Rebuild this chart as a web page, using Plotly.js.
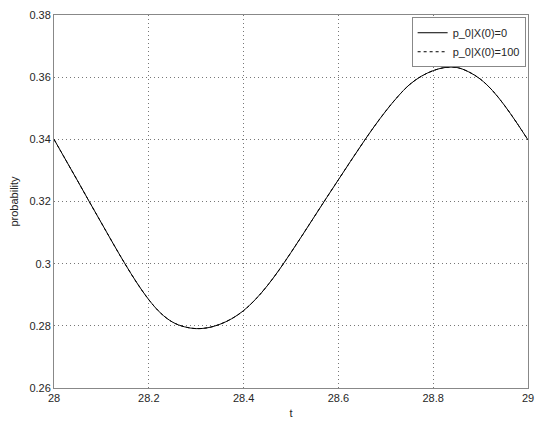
<!DOCTYPE html>
<html>
<head>
<meta charset="utf-8">
<script src="https://cdn.plot.ly/plotly-3.0.1.min.js"></script>
<style>html,body{margin:0;padding:0;background:#fff;}#chart{width:550px;height:428px;}</style>
</head>
<body>
<div id="chart"></div>
<script>
const t = [28.000,28.025,28.050,28.075,28.100,28.125,28.150,28.175,28.200,28.225,28.250,28.275,28.300,28.325,28.350,28.375,28.400,28.425,28.450,28.475,28.500,28.525,28.550,28.575,28.600,28.625,28.650,28.675,28.700,28.725,28.750,28.775,28.800,28.825,28.850,28.875,28.900,28.925,28.950,28.975,29.000];
const p0_x0 = [0.3400,0.3333,0.3266,0.3198,0.3131,0.3064,0.2999,0.2938,0.2884,0.2841,0.2812,0.2797,0.2791,0.2794,0.2805,0.2823,0.2849,0.2885,0.2929,0.2980,0.3036,0.3094,0.3153,0.3212,0.3270,0.3328,0.3385,0.3440,0.3491,0.3537,0.3576,0.3603,0.3621,0.3631,0.3631,0.3617,0.3593,0.3557,0.3510,0.3456,0.3398];
const p0_x100 = [0.3400,0.3333,0.3266,0.3198,0.3131,0.3064,0.2999,0.2938,0.2884,0.2841,0.2812,0.2797,0.2791,0.2794,0.2805,0.2823,0.2849,0.2885,0.2929,0.2980,0.3036,0.3094,0.3153,0.3212,0.3270,0.3328,0.3385,0.3440,0.3491,0.3537,0.3576,0.3603,0.3621,0.3631,0.3631,0.3617,0.3593,0.3557,0.3510,0.3456,0.3398];
const xTicks = [28, 28.2, 28.4, 28.6, 28.8, 29];
const xTickText = ['28','28.2','28.4','28.6','28.8','29'];
const yTicks = [0.26, 0.28, 0.30, 0.32, 0.34, 0.36, 0.38];
const yTickText = ['0.26','0.28','0.3','0.32','0.34','0.36','0.38'];
const names = ['p_0|X(0)=0', 'p_0|X(0)=100'];

const traces = [
  {x: t, y: p0_x0, name: names[0], mode: 'lines', line: {color: '#000', width: 1, shape: 'spline', dash: 'solid'}},
  {x: t, y: p0_x100, name: names[1], mode: 'lines', line: {color: '#000', width: 1, shape: 'spline', dash: '3px,3px'}}
];
const font = {family: 'Liberation Sans, Arial, sans-serif', size: 11, color: '#262626'};
const layout = {
  width: 550, height: 428,
  margin: {l: 54, r: 22, t: 15, b: 40},
  paper_bgcolor: '#fff', plot_bgcolor: '#fff',
  font: font,
  showlegend: true,
  legend: {x: 0.995, xanchor: 'right', y: 0.994, yanchor: 'top', bgcolor: '#fff', bordercolor: '#888', borderwidth: 1, font: font, itemwidth: 30, tracegroupgap: 0},
  xaxis: {range: [28, 29], tickvals: xTicks, ticktext: xTickText, showgrid: true, gridcolor: '#777', griddash: '1px,3px', gridwidth: 1,
          showline: true, linecolor: '#888', linewidth: 1, mirror: true, zeroline: false, ticks: '', ticklen: 0,
          title: {text: 't', font: font, standoff: 6}, tickfont: font},
  yaxis: {range: [0.26, 0.38], tickvals: yTicks, ticktext: yTickText, showgrid: true, gridcolor: '#777', griddash: '1px,3px', gridwidth: 1,
          showline: true, linecolor: '#888', linewidth: 1, mirror: true, zeroline: false, ticks: '', ticklen: 0,
          title: {text: 'probability', font: font, standoff: 8}, tickfont: font}
};
Plotly.newPlot('chart', traces, layout, {displayModeBar: false, staticPlot: true});
</script>
</body>
</html>
